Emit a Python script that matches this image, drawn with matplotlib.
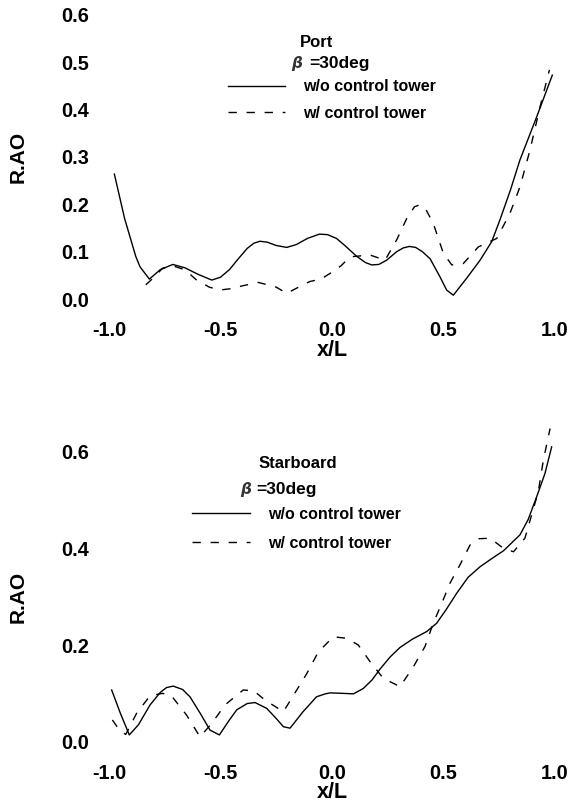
import matplotlib
matplotlib.use("Agg")
import matplotlib.pyplot as plt

plt.rcParams['font.family'] = ['Liberation Sans', 'DejaVu Sans']
plt.rcParams['font.weight'] = 'bold'

# Port side, beta = 30 deg
port_x_wo = [-0.976, -0.93, -0.88, -0.861, -0.819, -0.77, -0.714, -0.66, -0.60, -0.539, -0.50, -0.46,
             -0.42, -0.38, -0.35, -0.323, -0.29, -0.25, -0.203, -0.16, -0.11, -0.057, -0.02, 0.02,
             0.06, 0.111, 0.15, 0.178, 0.21, 0.245, 0.29, 0.32, 0.347, 0.375, 0.405, 0.44, 0.484,
             0.514, 0.544, 0.604, 0.664, 0.716, 0.753, 0.80, 0.843, 0.918, 0.988]
port_y_wo = [0.264, 0.17, 0.09, 0.068, 0.042, 0.062, 0.073, 0.066, 0.052, 0.040, 0.046, 0.062,
             0.085, 0.107, 0.118, 0.122, 0.120, 0.113, 0.109, 0.115, 0.128, 0.137, 0.136, 0.128,
             0.112, 0.090, 0.077, 0.072, 0.073, 0.082, 0.100, 0.108, 0.111, 0.109, 0.100, 0.085, 0.047,
             0.019, 0.008, 0.044, 0.082, 0.121, 0.167, 0.23, 0.294, 0.385, 0.473]
port_x_w = [-0.835, -0.80, -0.76, -0.714, -0.66, -0.607, -0.55, -0.502, -0.45, -0.40, -0.33, -0.25,
            -0.203, -0.15, -0.099, -0.05, -0.009, 0.04, 0.081, 0.170, 0.238, 0.29, 0.335, 0.37, 0.395,
            0.42, 0.454, 0.499, 0.537, 0.589, 0.656, 0.739, 0.798, 0.843, 0.888, 0.933, 0.975]
port_y_w = [0.030, 0.045, 0.065, 0.070, 0.062, 0.040, 0.025, 0.019, 0.022, 0.028, 0.035, 0.025,
            0.012, 0.025, 0.037, 0.042, 0.054, 0.070, 0.089, 0.093, 0.082, 0.125, 0.170, 0.195, 0.199,
            0.190, 0.160, 0.097, 0.072, 0.075, 0.110, 0.128, 0.181, 0.237, 0.315, 0.406, 0.484]

# Starboard side, beta = 30 deg
stb_x_wo = [-0.988, -0.95, -0.909, -0.868, -0.816, -0.77, -0.742, -0.712, -0.67, -0.637, -0.59,
            -0.547, -0.505, -0.46, -0.427, -0.38, -0.345, -0.293, -0.25, -0.218, -0.188, -0.13,
            -0.069, -0.03, -0.009, 0.05, 0.096, 0.140, 0.18, 0.215, 0.26, 0.305, 0.36, 0.425, 0.469,
            0.51, 0.559, 0.61, 0.664, 0.72, 0.769, 0.843, 0.88, 0.918, 0.955, 0.985]
stb_y_wo = [0.107, 0.06, 0.014, 0.035, 0.076, 0.102, 0.112, 0.115, 0.108, 0.093, 0.058,
            0.024, 0.014, 0.045, 0.066, 0.079, 0.081, 0.069, 0.048, 0.031, 0.028, 0.062,
            0.093, 0.099, 0.101, 0.100, 0.099, 0.110, 0.128, 0.150, 0.175, 0.195, 0.212, 0.228, 0.245,
            0.272, 0.307, 0.340, 0.362, 0.380, 0.395, 0.428, 0.460, 0.507, 0.555, 0.610]
stb_x_w = [-0.985, -0.95, -0.925, -0.876, -0.816, -0.76, -0.72, -0.652, -0.592, -0.539, -0.48,
           -0.398, -0.35, -0.30, -0.218, -0.158, -0.113, -0.061, 0.006, 0.066, 0.118, 0.170, 0.230,
           0.305, 0.365, 0.417, 0.454, 0.492, 0.529, 0.574, 0.619, 0.66, 0.709, 0.769, 0.814, 0.865,
           0.895, 0.925, 0.948, 0.978]
stb_y_w = [0.045, 0.022, 0.015, 0.059, 0.095, 0.100, 0.095, 0.055, 0.010, 0.038, 0.076,
           0.107, 0.105, 0.086, 0.062, 0.107, 0.141, 0.186, 0.217, 0.214, 0.200, 0.166, 0.131,
           0.114, 0.155, 0.197, 0.245, 0.286, 0.328, 0.366, 0.407, 0.420, 0.421, 0.400, 0.393, 0.421,
           0.469, 0.517, 0.583, 0.648]

xticks = [-1.0, -0.5, 0.0, 0.5, 1.0]
port_yticks = [0.0, 0.1, 0.2, 0.3, 0.4, 0.5, 0.6]
stb_yticks = [0.0, 0.2, 0.4, 0.6]
labels = ["w/o control tower", "w/ control tower"]

fig = plt.figure(figsize=(5.7, 8.05), dpi=100)
ax1 = fig.add_axes([109/570, 1 - 299/805, 446/570, 284/805])
ax2 = fig.add_axes([109/570, 1 - 741.7/805, 446/570, 290/805])

dash = (0, (6, 7))


def style(ax, yticks, title, tpos, bpos, lpos, lspace):
    ax.set_xlim(-1, 1)
    ax.set_ylim(0, 0.6)
    ax.set_xticks(xticks)
    ax.set_xticklabels([f"{v:.1f}" for v in xticks])
    ax.set_yticks(yticks)
    ax.set_yticklabels([f"{v:.1f}" for v in yticks])
    for s in ax.spines.values():
        s.set_visible(False)
    ax.tick_params(length=0, labelsize=14.3)
    ax.tick_params(axis='x', pad=16)
    ax.tick_params(axis='y', pad=14.4)
    ax.set_xlabel("x/L", fontsize=15.5, fontweight='bold', labelpad=-0.5)
    ax.set_ylabel("R.AO", fontsize=15, fontweight='bold', labelpad=24)
    ax.text(tpos[0], tpos[1], title, transform=ax.transAxes, ha='center', va='center', fontsize=12)
    # beta in a thin italic face, the rest bold
    ax.text(bpos[0], bpos[1], r"$\beta$", transform=ax.transAxes, ha='center', va='center',
            fontsize=11, fontweight='normal', color='#333333')
    ax.text(bpos[2], bpos[1], "=30deg", transform=ax.transAxes, ha='left', va='center',
            fontsize=12.5)
    ax.legend(labels, loc='upper left', bbox_to_anchor=lpos, frameon=False, fontsize=11.5,
              handlelength=3.6, handletextpad=1.1, labelspacing=lspace, borderpad=0,
              borderaxespad=0)


ax1.plot(port_x_wo, port_y_wo, color='black', lw=1.0, clip_on=False)
ax1.plot(port_x_w, port_y_w, color='black', lw=1.0, ls=dash, clip_on=False)
style(ax1, port_yticks, "Port", (0.4664, 0.9025),
      ((297 - 109) / 446, 0.8275, (309 - 109) / 446), (0.2668, 0.773), 0.71)

ax2.plot(stb_x_wo, stb_y_wo, color='black', lw=1.0, clip_on=False)
ax2.plot(stb_x_w, stb_y_w, color='black', lw=1.0, ls=dash, clip_on=False)
style(ax2, stb_yticks, "Starboard", (0.4233, 0.9576),
      ((246.5 - 109) / 446, 0.868, (256.5 - 109) / 446), (0.1872, 0.8097), 0.88)

fig.savefig("out.png", dpi=100)
